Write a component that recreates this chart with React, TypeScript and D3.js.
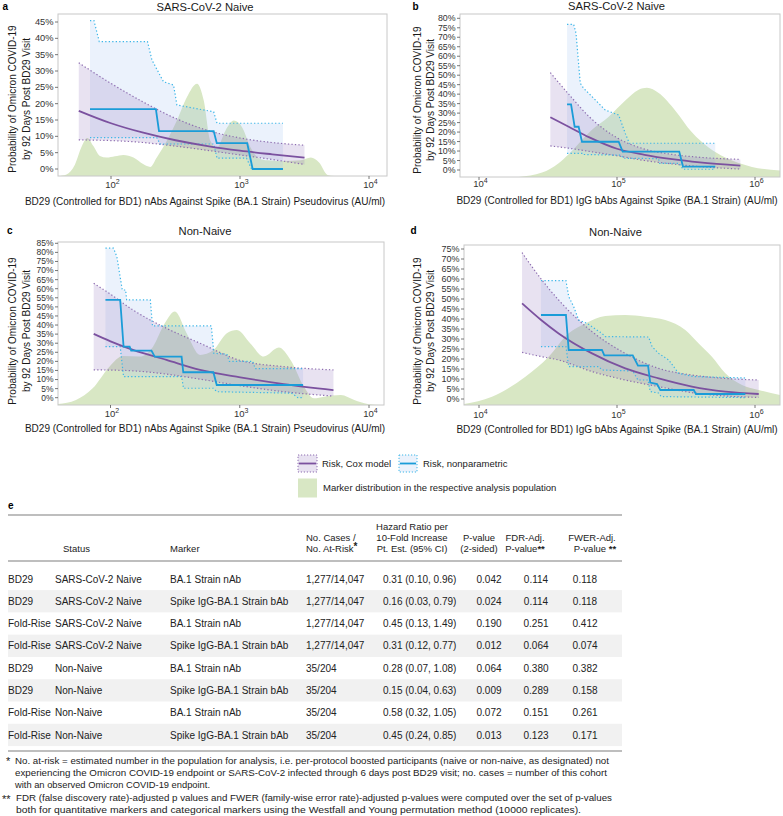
import React from "react";
import * as d3 from "d3";

const FONT = "'Liberation Sans', Arial, Helvetica, sans-serif";

// ---------------- Panel a : BD29 nAb, SARS-CoV-2 Naive (x as log10 AU/ml) ----------------
const aCoxLogX = [1.75, 2.0, 2.25, 2.5, 2.75, 3.0, 3.25, 3.5];
const aCoxEst = [0.178, 0.14, 0.111, 0.088, 0.07, 0.056, 0.045, 0.035];
const aCoxHi = [0.325, 0.262, 0.205, 0.155, 0.118, 0.095, 0.081, 0.073];
const aCoxLo = [0.089, 0.087, 0.081, 0.07, 0.057, 0.043, 0.029, 0.014];
const aNpLogX = [1.837, 2.348, 2.372, 2.796, 2.82, 3.056, 3.098, 3.333];
const aNpEst = [0.183, 0.183, 0.116, 0.116, 0.079, 0.079, 0.0, 0.0];
const aNpHiLogX = [1.837, 1.868, 1.909, 2.283, 2.317, 2.407, 2.485, 2.511, 2.796, 2.822, 3.333];
const aNpHi = [0.454, 0.454, 0.39, 0.39, 0.334, 0.267, 0.257, 0.196, 0.175, 0.14, 0.14];
const aNpLoLogX = [1.837, 2.355, 2.381, 2.796, 2.822, 3.05, 3.09, 3.333];
const aNpLo = [0.096, 0.096, 0.0765, 0.0765, 0.033, 0.033, 0.0, 0.0];
const aDensLogX = [1.59, 1.655, 1.72, 1.772, 1.816, 1.862, 1.914, 1.967, 2.031, 2.096, 2.174, 2.252, 2.304, 2.355, 2.433, 2.511, 2.589, 2.667, 2.719, 2.77, 2.822, 2.887, 2.952, 3.017, 3.082, 3.146, 3.212, 3.341, 3.471, 3.549, 3.613, 3.679, 3.73];
const aDens = [0, 0.01, 0.07, 0.18, 0.234, 0.186, 0.124, 0.114, 0.122, 0.13, 0.114, 0.072, 0.056, 0.114, 0.217, 0.342, 0.487, 0.569, 0.466, 0.217, 0.176, 0.28, 0.342, 0.3, 0.176, 0.11, 0.097, 0.093, 0.097, 0.114, 0.083, 0.006, 0];

// ---------------- Panel b : BD29 IgG bAb, SARS-CoV-2 Naive ----------------
const bCoxLogX = [4.517, 4.65, 4.8, 5.0, 5.2, 5.4, 5.6, 5.894];
const bCoxEst = [0.278, 0.228, 0.172, 0.112, 0.08, 0.057, 0.04, 0.023];
const bCoxHi = [0.513, 0.4, 0.28, 0.17, 0.11, 0.082, 0.067, 0.056];
const bCoxLo = [0.127, 0.115, 0.098, 0.075, 0.05, 0.032, 0.018, 0.005];
const bNpLogX = [4.638, 4.667, 4.693, 4.722, 4.746, 5.012, 5.041, 5.451, 5.478, 5.712];
const bNpEst = [0.346, 0.346, 0.228, 0.228, 0.149, 0.149, 0.097, 0.097, 0.018, 0.018];
const bNpHiLogX = [4.638, 4.686, 4.703, 4.734, 4.758, 4.819, 4.915, 5.012, 5.06, 5.089, 5.712];
const bNpHi = [0.768, 0.768, 0.721, 0.457, 0.431, 0.387, 0.316, 0.29, 0.193, 0.141, 0.141];
const bNpLoLogX = [4.638, 4.746, 4.75, 5.03, 5.045, 5.3, 5.31, 5.45, 5.478, 5.712];
const bNpLo = [0.088, 0.088, 0.082, 0.078, 0.062, 0.06, 0.035, 0.035, 0.004, 0.004];
const bDensLogX = [4.288, 4.457, 4.577, 4.65, 4.819, 4.94, 5.06, 5.157, 5.217, 5.302, 5.423, 5.543, 5.664, 5.785, 5.978, 6.183];
const bDens = [0, 0.027, 0.085, 0.14, 0.29, 0.37, 0.469, 0.535, 0.547, 0.515, 0.407, 0.274, 0.181, 0.119, 0.062, 0.04];

// ---------------- Panel c : BD29 nAb, Non-Naive ----------------
const cCoxLogX = [1.87, 2.0, 2.174, 2.433, 2.693, 3.004, 3.341, 3.725];
const cCoxEst = [0.351, 0.31, 0.263, 0.208, 0.153, 0.112, 0.075, 0.042];
const cCoxHi = [0.63, 0.57, 0.483, 0.382, 0.3, 0.205, 0.171, 0.153];
const cCoxLo = [0.153, 0.152, 0.148, 0.13, 0.102, 0.066, 0.033, 0.009];
const cNpLogX = [1.961, 2.075, 2.101, 2.148, 2.16, 2.317, 2.342, 2.55, 2.563, 2.796, 2.822, 3.49];
const cNpEst = [0.538, 0.538, 0.281, 0.281, 0.259, 0.259, 0.226, 0.226, 0.14, 0.14, 0.07, 0.07];
const cNpHiLogX = [1.961, 2.023, 2.049, 2.091, 2.117, 2.125, 2.308, 2.325, 2.78, 2.8, 2.9, 2.92, 3.1, 3.12, 3.49];
const cNpHi = [0.823, 0.823, 0.777, 0.593, 0.593, 0.538, 0.538, 0.395, 0.395, 0.244, 0.24, 0.2, 0.2, 0.16, 0.16];
const cNpLoLogX = [1.961, 2.075, 2.101, 2.55, 2.565, 2.796, 2.822, 3.4, 3.45, 3.49];
const cNpLo = [0.281, 0.281, 0.116, 0.116, 0.052, 0.052, 0.033, 0.025, 0.0, 0.0];
const cDensLogX = [1.59, 1.733, 1.862, 1.992, 2.096, 2.226, 2.329, 2.42, 2.498, 2.589, 2.693, 2.796, 2.9, 2.978, 3.082, 3.185, 3.302, 3.393, 3.497, 3.574, 3.652, 3.782, 3.886, 3.99, 4.093];
const cDens = [0.006, 0.031, 0.102, 0.235, 0.3, 0.297, 0.358, 0.501, 0.573, 0.44, 0.307, 0.337, 0.44, 0.46, 0.378, 0.297, 0.352, 0.276, 0.112, 0.041, 0.051, 0.061, 0.031, 0.006, 0];

// ---------------- Panel d : BD29 IgG bAb, Non-Naive ----------------
const dCoxLogX = [4.312, 4.45, 4.577, 4.819, 5.06, 5.302, 5.543, 5.785, 6.027];
const dCoxEst = [0.478, 0.395, 0.328, 0.228, 0.153, 0.103, 0.062, 0.037, 0.025];
const dCoxHi = [0.732, 0.6, 0.495, 0.337, 0.228, 0.153, 0.12, 0.103, 0.095];
const dCoxLo = [0.233, 0.212, 0.195, 0.137, 0.095, 0.062, 0.032, 0.015, 0.008];
const dNpLogX = [4.449, 4.63, 4.65, 4.891, 4.908, 5.114, 5.152, 5.225, 5.241, 5.29, 5.314, 5.556, 5.572, 5.93];
const dNpEst = [0.42, 0.42, 0.245, 0.245, 0.218, 0.218, 0.167, 0.167, 0.082, 0.075, 0.045, 0.045, 0.025, 0.025];
const dNpHiLogX = [4.449, 4.63, 4.65, 4.686, 4.722, 4.783, 4.891, 4.915, 5.229, 5.254, 5.302, 5.375, 5.447, 5.556, 5.93];
const dNpHi = [0.592, 0.592, 0.512, 0.462, 0.395, 0.378, 0.328, 0.312, 0.31, 0.262, 0.228, 0.195, 0.128, 0.112, 0.105];
const dNpLoLogX = [4.449, 4.63, 4.65, 4.867, 4.891, 5.114, 5.152, 5.225, 5.241, 5.3, 5.32, 5.93];
const dNpLo = [0.262, 0.262, 0.162, 0.162, 0.145, 0.14, 0.095, 0.095, 0.037, 0.03, 0.012, 0.007];
const dDensLogX = [3.889, 4.094, 4.336, 4.505, 4.65, 4.771, 4.915, 5.06, 5.205, 5.35, 5.495, 5.592, 5.688, 5.785, 5.906, 6.027, 6.183];
const dDens = [0.006, 0.052, 0.177, 0.302, 0.448, 0.51, 0.556, 0.5625, 0.552, 0.531, 0.469, 0.385, 0.302, 0.198, 0.125, 0.094, 0.0625];

// ---------------- Table e ----------------
const tblTime = ["BD29", "BD29", "Fold-Rise", "Fold-Rise", "BD29", "BD29", "Fold-Rise", "Fold-Rise"];
const tblStatus = ["SARS-CoV-2 Naive", "SARS-CoV-2 Naive", "SARS-CoV-2 Naive", "SARS-CoV-2 Naive", "Non-Naive", "Non-Naive", "Non-Naive", "Non-Naive"];
const tblMarker = ["BA.1 Strain nAb", "Spike IgG-BA.1 Strain bAb", "BA.1 Strain nAb", "Spike IgG-BA.1 Strain bAb", "BA.1 Strain nAb", "Spike IgG-BA.1 Strain bAb", "BA.1 Strain nAb", "Spike IgG-BA.1 Strain bAb"];
const tblCases = ["1,277/14,047", "1,277/14,047", "1,277/14,047", "1,277/14,047", "35/204", "35/204", "35/204", "35/204"];
const tblHR = ["0.31 (0.10, 0.96)", "0.16 (0.03, 0.79)", "0.45 (0.13, 1.49)", "0.31 (0.12, 0.77)", "0.28 (0.07, 1.08)", "0.15 (0.04, 0.63)", "0.58 (0.32, 1.05)", "0.45 (0.24, 0.85)"];
const tblP = ["0.042", "0.024", "0.190", "0.012", "0.064", "0.009", "0.072", "0.013"];
const tblFDR = ["0.114", "0.114", "0.251", "0.064", "0.380", "0.289", "0.151", "0.123"];
const tblFWER = ["0.118", "0.118", "0.412", "0.074", "0.382", "0.158", "0.261", "0.171"];

const footnote1 = [
  "No. at-risk = estimated number in the population for analysis, i.e. per-protocol boosted participants (naive or non-naive, as designated) not",
  "experiencing the Omicron COVID-19 endpoint or SARS-CoV-2 infected through 6 days post BD29 visit; no. cases = number of this cohort",
  "with an observed Omicron COVID-19 endpoint.",
];
const footnote2 = [
  "FDR (false discovery rate)-adjusted p values and FWER (family-wise error rate)-adjusted p-values were computed over the set of p-values",
  "both for quantitative markers and categorical markers using the Westfall and Young permutation method (10000 replicates).",
];

// ---------------- styles ----------------
const PURPLE = "#7b519f";
const PURPLE_DOT = "#8d6db0";
const PURPLE_FILL = "rgba(140,110,185,0.2)";
const BLUE = "#1a9cd8";
const BLUE_DOT = "#3cb6e8";
const BLUE_FILL = "rgba(165,195,240,0.22)";
const GREEN = "#d8e7c4";
const TXT = "#333";

type PData = {
  coxX: number[]; coxEst: number[]; coxHi: number[]; coxLo: number[];
  npX: number[]; npEst: number[]; npHiX: number[]; npHi: number[]; npLoX: number[]; npLo: number[];
  densX: number[]; dens: number[];
};
type Layout = {
  id: string; letter: string; letterX: number; letterY: number;
  title: string; titleX: number; titleY: number;
  xTitle: string; xTitleX: number; xTitleY: number; xTickLabelY: number;
  left: number; top: number; right: number; bottom: number;
  xTicks: number[]; xTickPx: [number, number];
  yMax: number; y0: number; yTop: number; yTickFont: number;
  yTitleX: [number, number]; yTitleY: number;
};

const panels: { L: Layout; D: PData }[] = [
  {
    L: { id: "a", letter: "a", letterX: 2.5, letterY: 10, title: "SARS-CoV-2 Naive", titleX: 205, titleY: 10.7,
      xTitle: "BD29 (Controlled for BD1) nAbs Against Spike (BA.1 Strain) Pseudovirus (AU/ml)", xTitleX: 205, xTitleY: 204.5, xTickLabelY: 187.7,
      left: 58, top: 14, right: 387, bottom: 176, xTicks: [2, 3, 4], xTickPx: [111, 369],
      yMax: 0.45, y0: 169, yTop: 22, yTickFont: 9.3, yTitleX: [15.5, 29.5], yTitleY: 99 },
    D: { coxX: aCoxLogX, coxEst: aCoxEst, coxHi: aCoxHi, coxLo: aCoxLo, npX: aNpLogX, npEst: aNpEst,
      npHiX: aNpHiLogX, npHi: aNpHi, npLoX: aNpLoLogX, npLo: aNpLo, densX: aDensLogX, dens: aDens },
  },
  {
    L: { id: "b", letter: "b", letterX: 412.5, letterY: 9.5, title: "SARS-CoV-2 Naive", titleX: 616.5, titleY: 10.3,
      xTitle: "BD29 (Controlled for BD1) IgG bAbs Against Spike (BA.1 Strain) (AU/ml)", xTitleX: 617, xTitleY: 204.3, xTickLabelY: 186.8,
      left: 460, top: 14, right: 780, bottom: 177, xTicks: [4, 5, 6], xTickPx: [479, 755],
      yMax: 0.8, y0: 170, yTop: 18.3, yTickFont: 8.8, yTitleX: [420.5, 434], yTitleY: 100 },
    D: { coxX: bCoxLogX, coxEst: bCoxEst, coxHi: bCoxHi, coxLo: bCoxLo, npX: bNpLogX, npEst: bNpEst,
      npHiX: bNpHiLogX, npHi: bNpHi, npLoX: bNpLoLogX, npLo: bNpLo, densX: bDensLogX, dens: bDens },
  },
  {
    L: { id: "c", letter: "c", letterX: 7, letterY: 234.3, title: "Non-Naive", titleX: 205, titleY: 235,
      xTitle: "BD29 (Controlled for BD1) nAbs Against Spike (BA.1 Strain) Pseudovirus (AU/ml)", xTitleX: 205, xTitleY: 432, xTickLabelY: 417.3,
      left: 58, top: 242, right: 384, bottom: 405, xTicks: [2, 3, 4], xTickPx: [110.5, 369],
      yMax: 0.85, y0: 397.7, yTop: 243.3, yTickFont: 8.5, yTitleX: [15.5, 29.5], yTitleY: 331 },
    D: { coxX: cCoxLogX, coxEst: cCoxEst, coxHi: cCoxHi, coxLo: cCoxLo, npX: cNpLogX, npEst: cNpEst,
      npHiX: cNpHiLogX, npHi: cNpHi, npLoX: cNpLoLogX, npLo: cNpLo, densX: cDensLogX, dens: cDens },
  },
  {
    L: { id: "d", letter: "d", letterX: 410.5, letterY: 234.3, title: "Non-Naive", titleX: 615.5, titleY: 235.5,
      xTitle: "BD29 (Controlled for BD1) IgG bAbs Against Spike (BA.1 Strain) (AU/ml)", xTitleX: 617, xTitleY: 432.7, xTickLabelY: 418,
      left: 464, top: 245, right: 780, bottom: 405, xTicks: [4, 5, 6], xTickPx: [479, 755],
      yMax: 0.75, y0: 399, yTop: 249, yTickFont: 9, yTitleX: [420.5, 434], yTitleY: 331 },
    D: { coxX: dCoxLogX, coxEst: dCoxEst, coxHi: dCoxHi, coxLo: dCoxLo, npX: dNpLogX, npEst: dNpEst,
      npHiX: dNpHiLogX, npHi: dNpHi, npLoX: dNpLoLogX, npLo: dNpLo, densX: dDensLogX, dens: dDens },
  },
];

function zip(a: number[], b: number[]): [number, number][] {
  return a.map((v, i) => [v, b[i]] as [number, number]);
}

function Panel({ L, D }: { L: Layout; D: PData }) {
  const x = d3
    .scaleLog()
    .domain([Math.pow(10, L.xTicks[0]), Math.pow(10, L.xTicks[L.xTicks.length - 1])])
    .range(L.xTickPx);
  const X = (lg: number) => x(Math.pow(10, lg));
  const y = d3.scaleLinear().domain([0, L.yMax]).range([L.y0, L.yTop]);
  const yd = d3.scaleLinear().domain([0, 1]).range([L.bottom, L.top]);

  const densPath = d3
    .area<[number, number]>()
    .x((d) => X(d[0]))
    .y0(L.bottom)
    .y1((d) => yd(d[1]))
    .curve(d3.curveMonotoneX)(zip(D.densX, D.dens)) as string;

  const coxBand = d3
    .area<number>()
    .x((d) => X(d))
    .y0((_, i) => y(D.coxLo[i]))
    .y1((_, i) => y(D.coxHi[i]))
    .curve(d3.curveMonotoneX)(D.coxX) as string;

  const smooth = d3
    .line<[number, number]>()
    .x((d) => X(d[0]))
    .y((d) => y(d[1]))
    .curve(d3.curveMonotoneX);
  const straight = d3
    .line<[number, number]>()
    .x((d) => X(d[0]))
    .y((d) => y(d[1]));

  const npBand =
    (straight([...zip(D.npHiX, D.npHi), ...zip(D.npLoX, D.npLo).reverse()]) as string) + "Z";

  const yTicks = d3.range(0, Math.round(L.yMax * 100) + 1, 5).map((v) => v / 100);
  const clipId = `clip-${L.id}`;

  return (
    <g>
      <defs>
        <clipPath id={clipId}>
          <rect x={L.left} y={L.top} width={L.right - L.left} height={L.bottom - L.top} />
        </clipPath>
      </defs>
      <rect x={L.left} y={L.top} width={L.right - L.left} height={L.bottom - L.top} fill="#fff" />
      <g clipPath={`url(#${clipId})`}>
        <path d={densPath} fill={GREEN} />
        <path d={npBand} fill={BLUE_FILL} />
        <path d={coxBand} fill={PURPLE_FILL} />
        <path d={smooth(zip(D.coxX, D.coxHi)) as string} fill="none" stroke={PURPLE_DOT} strokeWidth={1.2} strokeDasharray="1.3,2.2" />
        <path d={smooth(zip(D.coxX, D.coxLo)) as string} fill="none" stroke={PURPLE_DOT} strokeWidth={1.2} strokeDasharray="1.3,2.2" />
        <path d={straight(zip(D.npHiX, D.npHi)) as string} fill="none" stroke={BLUE_DOT} strokeWidth={1.2} strokeDasharray="1.3,2.2" />
        <path d={straight(zip(D.npLoX, D.npLo)) as string} fill="none" stroke={BLUE_DOT} strokeWidth={1.2} strokeDasharray="1.3,2.2" />
        <path d={smooth(zip(D.coxX, D.coxEst)) as string} fill="none" stroke={PURPLE} strokeWidth={1.8} />
        <path d={straight(zip(D.npX, D.npEst)) as string} fill="none" stroke={BLUE} strokeWidth={1.8} />
      </g>
      <rect x={L.left} y={L.top} width={L.right - L.left} height={L.bottom - L.top} fill="none" stroke="#c8c8c8" strokeWidth={1} />
      {yTicks.map((t) => (
        <g key={t}>
          <line x1={L.left - 3} x2={L.left} y1={y(t)} y2={y(t)} stroke="#555" strokeWidth={0.8} />
          <text x={L.left - 4.5} y={y(t) + L.yTickFont * 0.34} textAnchor="end" fontSize={L.yTickFont} fill={TXT} fontFamily={FONT}>
            {`${Math.round(t * 100)}%`}
          </text>
        </g>
      ))}
      {L.xTicks.map((k) => (
        <g key={k}>
          <line x1={X(k)} x2={X(k)} y1={L.bottom} y2={L.bottom + 3} stroke="#555" strokeWidth={0.8} />
          <text x={X(k) + 1.5} y={L.xTickLabelY} textAnchor="middle" fontSize={9.5} fill={TXT} fontFamily={FONT}>
            10
            <tspan dy={-4} fontSize={7}>
              {k}
            </tspan>
          </text>
        </g>
      ))}
      <text x={L.titleX} y={L.titleY} textAnchor="middle" fontSize={11.2} fill="#1a1a1a" fontFamily={FONT}>
        {L.title}
      </text>
      <text x={L.letterX} y={L.letterY} fontSize={10} fontWeight="bold" fill="#000" fontFamily={FONT}>
        {L.letter}
      </text>
      <text x={L.xTitleX} y={L.xTitleY} textAnchor="middle" fontSize={10} fill="#1a1a1a" fontFamily={FONT}>
        {L.xTitle}
      </text>
      <text transform={`translate(${L.yTitleX[0]},${L.yTitleY}) rotate(-90)`} textAnchor="middle" fontSize={10} fill="#1a1a1a" fontFamily={FONT}>
        Probability of Omicron COVID-19
      </text>
      <text transform={`translate(${L.yTitleX[1]},${L.yTitleY}) rotate(-90)`} textAnchor="middle" fontSize={10} fill="#1a1a1a" fontFamily={FONT}>
        by 92 Days Post BD29 Visit
      </text>
    </g>
  );
}

function Legend() {
  return (
    <g fontFamily={FONT} fontSize={9.5} fill="#222">
      <rect x={298} y={455} width={19} height={17} fill={PURPLE_FILL} stroke={PURPLE_DOT} strokeWidth={1} strokeDasharray="1.2,1.8" />
      <line x1={299} x2={316} y1={463.5} y2={463.5} stroke={PURPLE} strokeWidth={1.8} />
      <text x={322} y={467}>Risk, Cox model</text>
      <rect x={399} y={455} width={18} height={17} fill={BLUE_FILL} stroke={BLUE_DOT} strokeWidth={1} strokeDasharray="1.2,1.8" />
      <line x1={400} x2={416} y1={463.5} y2={463.5} stroke={BLUE} strokeWidth={1.8} />
      <text x={423} y={467}>Risk, nonparametric</text>
      <rect x={298} y={478.5} width={19} height={19} fill={GREEN} />
      <text x={323} y={491}>Marker distribution in the respective analysis population</text>
    </g>
  );
}

function Table() {
  const rowY = d3.scalePoint<number>().domain(d3.range(tblTime.length)).range([579, 735]);
  const hx = { time: 8, status: 55, marker: 170, cases: 306, hr: 383, p: 489, fdr: 536, fwer: 585 };
  return (
    <g fontFamily={FONT} fontSize={9.5} fill="#222">
      <text x={8} y={509} fontSize={10} fontWeight="bold" fill="#000">e</text>
      {tblTime.map((_, i) =>
        i % 2 === 1 ? (
          <rect key={`bg${i}`} x={8} y={(rowY(i) as number) - 11.2} width={614} height={22.3} fill="#f1f1f1" />
        ) : null
      )}
      <line x1={8} x2={622} y1={515} y2={515} stroke="#a8a8a8" strokeWidth={1.5} />
      <line x1={8} x2={622} y1={561} y2={561} stroke="#a8a8a8" strokeWidth={1.5} />
      <line x1={8} x2={622} y1={751} y2={751} stroke="#a8a8a8" strokeWidth={1.5} />
      <text x={63} y={551.5}>Status</text>
      <text x={170} y={551.5}>Marker</text>
      <text x={306} y={540.5}>No. Cases /</text>
      <text x={306} y={551.5}>
        No. At-Risk<tspan dy={-2} fontSize={10} fontWeight="bold">*</tspan>
      </text>
      <text x={412} y={529.5} textAnchor="middle">Hazard Ratio per</text>
      <text x={412} y={540.5} textAnchor="middle">10-Fold Increase</text>
      <text x={412} y={551.5} textAnchor="middle">Pt. Est. (95% CI)</text>
      <text x={479} y={540.5} textAnchor="middle">P-value</text>
      <text x={479} y={551.5} textAnchor="middle">(2-sided)</text>
      <text x={525} y={540.5} textAnchor="middle">FDR-Adj.</text>
      <text x={525} y={551.5} textAnchor="middle">
        P-value<tspan fontWeight="bold">**</tspan>
      </text>
      <text x={592} y={540.5} textAnchor="middle">FWER-Adj.</text>
      <text x={595} y={551.5} textAnchor="middle">
        P-value <tspan fontWeight="bold">**</tspan>
      </text>
      <g fontSize={10}>
        {tblTime.map((t, i) => {
          const yy = (rowY(i) as number) + 3.5;
          return (
            <g key={`r${i}`}>
              <text x={hx.time} y={yy}>{t}</text>
              <text x={hx.status} y={yy}>{tblStatus[i]}</text>
              <text x={hx.marker} y={yy}>{tblMarker[i]}</text>
              <text x={hx.cases} y={yy}>{tblCases[i]}</text>
              <text x={hx.hr} y={yy}>{tblHR[i]}</text>
              <text x={hx.p} y={yy} textAnchor="middle">{tblP[i]}</text>
              <text x={hx.fdr} y={yy} textAnchor="middle">{tblFDR[i]}</text>
              <text x={hx.fwer} y={yy} textAnchor="middle">{tblFWER[i]}</text>
            </g>
          );
        })}
      </g>
    </g>
  );
}

function Footnotes() {
  const widths1 = [594, 592, 195];
  const widths2 = [596, 565];
  const ys1 = [763.5, 775.5, 787.5];
  const ys2 = [801, 813];
  return (
    <g fontFamily={FONT} fontSize={8.6} fill="#222">
      <text x={6} y={765} fontSize={11}>*</text>
      {footnote1.map((s, i) => (
        <text key={`f1${i}`} x={15} y={ys1[i]} textLength={widths1[i]} lengthAdjust="spacingAndGlyphs">{s}</text>
      ))}
      <text x={2} y={802.5} fontSize={11}>**</text>
      {footnote2.map((s, i) => (
        <text key={`f2${i}`} x={16} y={ys2[i]} textLength={widths2[i]} lengthAdjust="spacingAndGlyphs">{s}</text>
      ))}
    </g>
  );
}

export default function App() {
  return (
    <svg
      width={783}
      height={816}
      viewBox="0 0 783 816"
      style={{ position: "absolute", left: 0, top: 0, display: "block", background: "#fff" }}
    >
      <rect x={0} y={0} width={783} height={816} fill="#fff" />
      {panels.map((p) => (
        <Panel key={p.L.id} L={p.L} D={p.D} />
      ))}
      <Legend />
      <Table />
      <Footnotes />
    </svg>
  );
}
